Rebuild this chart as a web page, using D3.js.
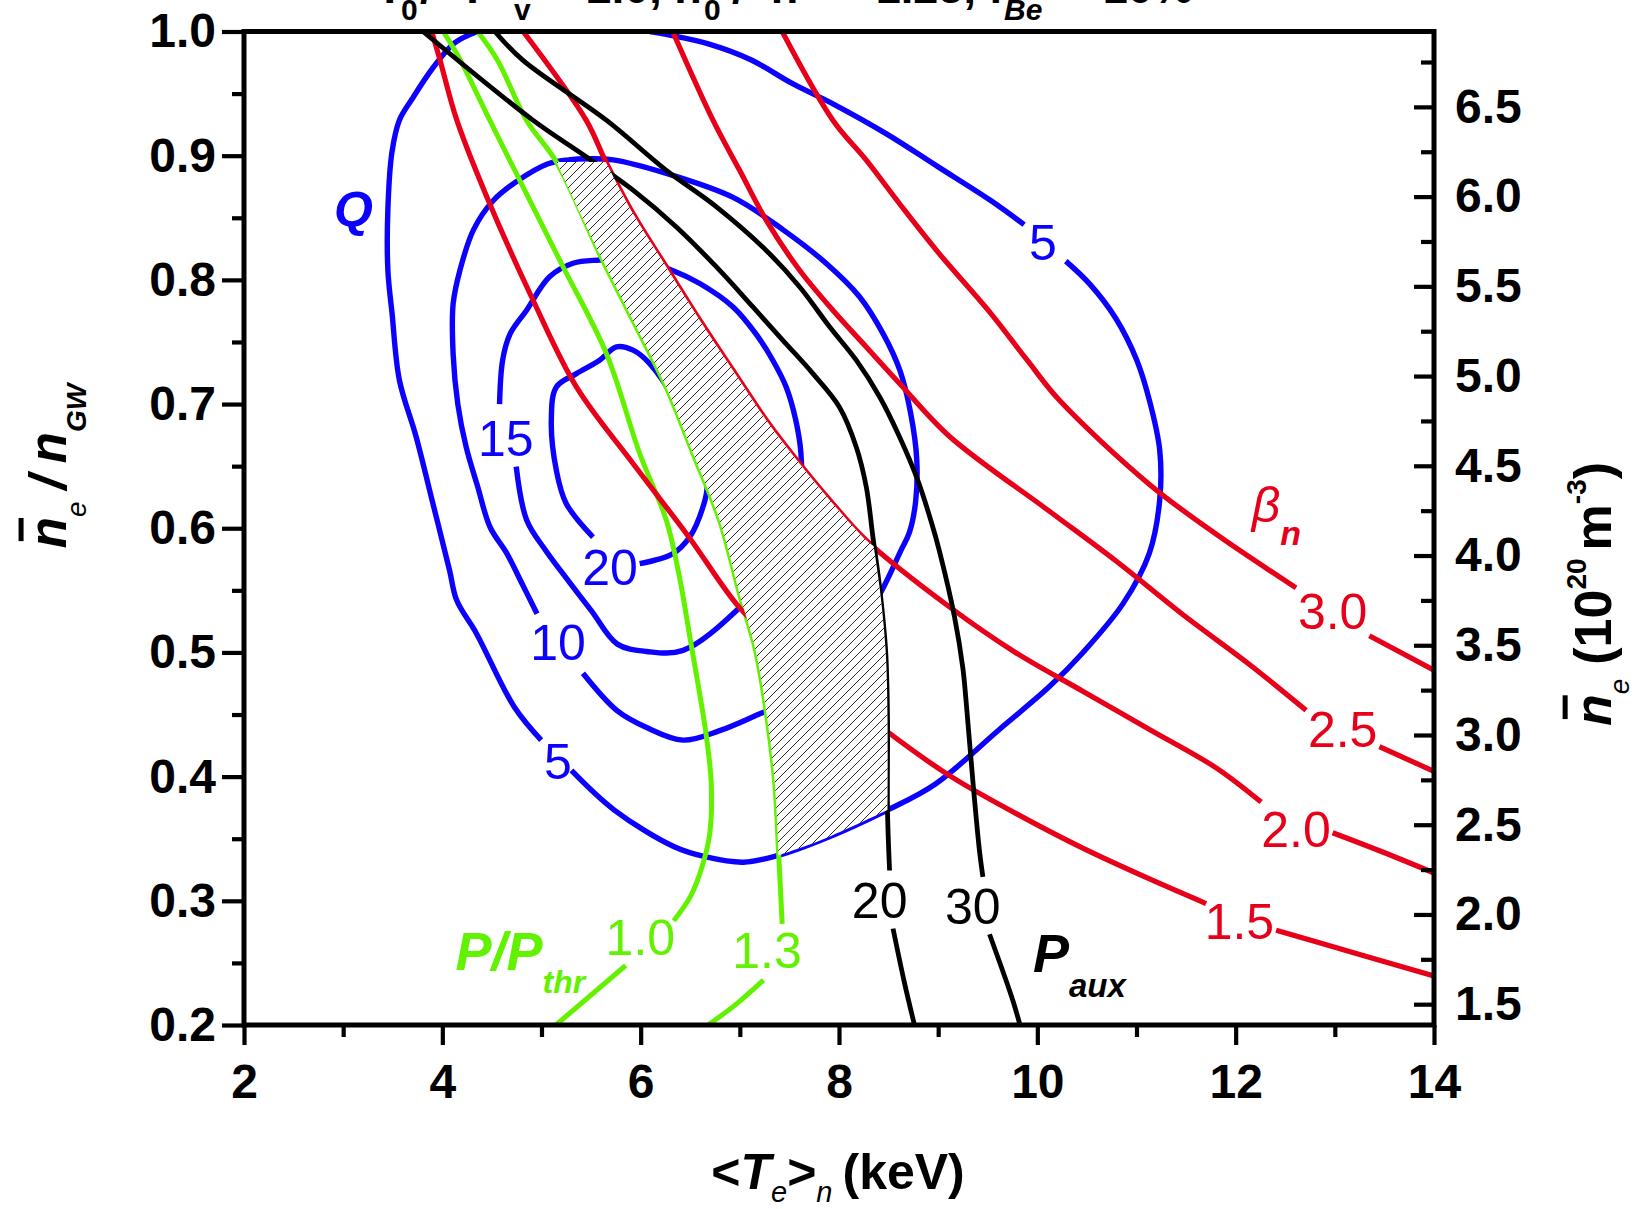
<!DOCTYPE html>
<html><head><meta charset="utf-8">
<script src="https://cdn.jsdelivr.net/npm/d3@7"></script>
<style>
html,body{margin:0;padding:0;background:#fff;}
svg{display:block;}
text{font-family:"Liberation Sans",Arial,Helvetica,sans-serif;}
</style></head><body>
<svg id="chart" width="1636" height="1209"></svg>
<script>
// ---------------- DATA (T in keV, n = n_e / n_GW) ----------------
const NGW = 6.92; // Greenwald density, 10^20 m^-3 (right axis = n * NGW)
const xTicksMajor = [2,4,6,8,10,12,14];
const xTicksMinor = [3,5,7,9,11,13];
const yTicksMajor = [0.2,0.3,0.4,0.5,0.6,0.7,0.8,0.9,1.0];
const yTicksMinor = [0.25,0.35,0.45,0.55,0.65,0.75,0.85,0.95];
const rTicksMajor = [1.5,2.0,2.5,3.0,3.5,4.0,4.5,5.0,5.5,6.0,6.5];
const rTicksMinor = [1.75,2.25,2.75,3.25,3.75,4.25,4.75,5.25,5.75,6.25,6.75];

// Q contours (blue)
const q5 = [
 [[4.356,1.0],[4.124,0.9908],[3.904,0.9706],[3.693,0.9454],[3.567,0.9286],[3.493,0.9034],[3.451,0.8571],[3.451,0.8076],[3.493,0.7731],[3.567,0.7193],[3.735,0.6739],[3.904,0.6202],[4.072,0.5664],[4.145,0.5420],[4.345,0.5151],[4.724,0.4563],[4.997,0.4294]],
 [[5.302,0.4050],[5.734,0.3731],[6.344,0.3433],[6.659,0.3353],[7.038,0.3311],[7.390,0.3366],[7.816,0.3487],[8.489,0.3731],[8.973,0.3941],[9.614,0.4378],[10.119,0.4723],[10.456,0.4996],[10.866,0.5395],[11.129,0.5798],[11.234,0.6227],[11.234,0.6630],[11.129,0.7034],[11.003,0.7353],[10.792,0.7689],[10.529,0.7966],[10.287,0.8151]],
 [[9.867,0.8445],[9.530,0.8639],[9.004,0.8908],[8.479,0.9176],[7.953,0.9412],[7.532,0.9580],[7.111,0.9773],[6.691,0.9899],[6.270,0.9975],[6.091,1.0]]
];
const q10 = [
 [[4.955,0.5311],[4.798,0.5563],[4.650,0.5798],[4.482,0.6008],[4.356,0.6336],[4.240,0.6655],[4.156,0.7000],[4.109,0.7403],[4.109,0.7807],[4.177,0.8076],[4.314,0.8403],[4.514,0.8639],[4.745,0.8790],[5.060,0.8933],[5.271,0.8966],[5.481,0.8975],[5.723,0.8966],[6.259,0.8857],[6.932,0.8664],[7.437,0.8403],[7.869,0.8134],[8.205,0.7866],[8.447,0.7563],[8.615,0.7269],[8.721,0.6933],[8.784,0.6555],[8.773,0.6218],[8.710,0.5966],[8.626,0.5824],[8.394,0.5445],[8.110,0.5126],[7.795,0.4832],[7.480,0.4605],[7.196,0.4504],[6.796,0.4370],[6.428,0.4294],[6.060,0.4395],[5.765,0.4529],[5.418,0.4832]]
];
const q15 = [
 [[4.745,0.6496],[4.850,0.6067],[5.039,0.5824],[5.187,0.5664],[5.502,0.5336],[5.765,0.5067],[6.060,0.5008],[6.428,0.5017],[6.964,0.5336],[7.322,0.5672],[7.532,0.6050],[7.616,0.6345],[7.616,0.6605],[7.563,0.6874],[7.469,0.7134],[7.332,0.7353],[7.164,0.7563],[6.932,0.7782],[6.596,0.7971],[6.322,0.8076],[5.954,0.8168],[5.586,0.8160],[5.318,0.8134],[5.081,0.8025],[4.850,0.7756],[4.682,0.7563],[4.608,0.7353],[4.577,0.7000]]
];
const q20 = [
 [[5.519,0.5929],[5.250,0.6198],[5.150,0.6466],[5.099,0.6870],[5.150,0.7138],[5.352,0.7245],[5.586,0.7353],[5.755,0.7460],[5.923,0.7434],[6.091,0.7326],[6.354,0.7017],[6.565,0.6639],[6.670,0.6345],[6.628,0.6171],[6.494,0.5929],[6.326,0.5796],[5.990,0.5715]]
];
const qLabels = [["5",5.166,0.4126],["10",5.166,0.5084],["15",4.640,0.6723],["20",5.692,0.5689],["5",10.056,0.8303]];

// P/P_thr contours (green)
const pthr10 = [
 [[4.009,1.0],[4.182,0.9769],[4.478,0.9286],[5.184,0.8158],[5.654,0.7407],[5.990,0.6602],[6.259,0.6064],[6.386,0.5630],[6.501,0.5101],[6.659,0.4345],[6.712,0.3941],[6.696,0.3538],[6.617,0.3269],[6.501,0.3034],[6.333,0.2840]],
 [[5.849,0.2479],[5.145,0.2]]
];
const pthr13 = [
 [[4.356,1.0],[4.556,0.9769],[4.848,0.9286],[5.150,0.8950],[5.586,0.8210],[5.923,0.7672],[6.259,0.7134],[6.528,0.6602],[6.796,0.6064],[7.006,0.5445],[7.159,0.5017],[7.274,0.4479],[7.353,0.3941],[7.390,0.3403],[7.427,0.2815]],
 [[7.238,0.2361],[6.964,0.2168],[6.680,0.2]]
];
const pthrLabels = [["1.0",5.997,0.2706],["1.3",7.274,0.2601]];

// P_aux contours (black)
const paux20 = [
 [[3.805,1.0],[4.913,0.9286],[5.450,0.8992],[5.923,0.8723],[6.360,0.8426],[6.764,0.8104],[7.132,0.7782],[7.434,0.7513],[7.737,0.7245],[8.005,0.6975],[8.174,0.6655],[8.275,0.6333],[8.342,0.5929],[8.409,0.5527],[8.470,0.5017],[8.489,0.4479],[8.489,0.3731],[8.510,0.3244]],
 [[8.545,0.2776],[8.662,0.2333],[8.761,0.2]]
];
const paux30 = [
 [[4.529,1.0],[4.811,0.9769],[5.654,0.9286],[6.259,0.8882],[6.764,0.8588],[7.269,0.8235],[7.606,0.7941],[7.905,0.7622],[8.174,0.7353],[8.409,0.7059],[8.611,0.6735],[8.794,0.6387],[8.931,0.6050],[9.010,0.5824],[9.165,0.5286],[9.249,0.4874],[9.281,0.4613],[9.352,0.3945],[9.416,0.3407],[9.451,0.3193]],
 [[9.518,0.2731],[9.753,0.2198],[9.825,0.2]]
];
const pauxLabels = [["20",8.410,0.3003],["30",9.349,0.2962]];

// beta_N contours (red)
const beta15 = [
 [[3.893,1.0],[3.977,0.9769],[4.146,0.9286],[4.451,0.8664],[4.913,0.7840],[5.355,0.7134],[5.923,0.6521],[6.491,0.5924],[6.996,0.5361],[7.427,0.5042],[7.953,0.4706],[8.489,0.4361],[9.115,0.4008],[9.787,0.3702],[10.458,0.3424],[11.131,0.3176],[11.702,0.2978]],
 [[12.408,0.2762],[13.146,0.2592],[14.0,0.2395]]
];
const beta20 = [
 [[4.815,1.0],[5.450,0.9286],[5.649,0.8950],[5.923,0.8534],[6.259,0.8104],[6.596,0.7675],[6.930,0.7272],[7.267,0.6870],[7.602,0.6521],[7.938,0.6198],[8.275,0.5903],[9.115,0.5366],[9.787,0.4996],[10.458,0.4688],[11.131,0.4380],[11.803,0.4071],[12.257,0.3795]],
 [[12.978,0.3548],[13.482,0.3393],[14.0,0.3224]]
];
const beta25 = [
 [[6.323,1.0],[6.729,0.9286],[6.998,0.8882],[7.267,0.8479],[7.603,0.8077],[7.938,0.7755],[8.275,0.7460],[8.611,0.7166],[9.115,0.6739],[10.122,0.6137],[10.794,0.5736],[11.466,0.5305],[12.139,0.4903],[12.710,0.4534]],
 [[13.449,0.4242],[14.0,0.4042]]
];
const beta30 = [
 [[7.427,1.0],[7.938,0.9286],[8.275,0.8964],[8.611,0.8613],[9.004,0.8218],[9.530,0.7731],[9.898,0.7353],[10.223,0.7030],[11.131,0.6353],[11.803,0.5952],[12.609,0.5520]],
 [[13.348,0.5134],[14.0,0.4857]]
];
const betaLabels = [["3.0",12.978,0.5335],["2.5",13.079,0.4380],["2.0",12.609,0.3579],["1.5",12.038,0.2839]];

// hatched operating window, edge by edge (clockwise)
const hatchTop   = [[5.150,0.8950],[5.649,0.8950]];
const hatchBeta  = [[5.649,0.8950],[5.923,0.8534],[6.259,0.8104],[6.596,0.7675],[6.930,0.7272],[7.267,0.6870],[7.602,0.6521],[7.938,0.6198],[8.275,0.5903],[8.350,0.5856]];
const hatchPaux  = [[8.350,0.5856],[8.409,0.5527],[8.470,0.5017],[8.489,0.4479],[8.489,0.3731]];
const hatchQ     = [[8.489,0.3731],[7.816,0.3487],[7.390,0.3366]];
const hatchPthr  = [[7.390,0.3366],[7.353,0.3941],[7.274,0.4479],[7.159,0.5017],[7.006,0.5445],[6.796,0.6064],[6.528,0.6602],[6.259,0.7134],[5.923,0.7672],[5.586,0.8210],[5.150,0.8950]];

// name-label anchor points (data coords)
const qName = [2.908,0.8426];
const pthrName = [4.133,0.2443];
const pauxName = [9.956,0.2427];
const betaName = [12.162,0.6050];

// ---------------- DRAWING ----------------
const BLUE="#0c00ff", RED="#e8001a", GREEN="#62f200", BLACK="#000";
const LW = 5.4;
const svg = d3.select("#chart");
const M = {left:244, right:1434, top:31.5, bottom:1025};
const x = d3.scaleLinear().domain([2,14]).range([M.left,M.right]);
const y = d3.scaleLinear().domain([0.2,1.0]).range([M.bottom,M.top]);
const yR = d3.scaleLinear().domain([0.2*NGW,1.0*NGW]).range([M.bottom,M.top]);

const defs = svg.append("defs");
defs.append("clipPath").attr("id","clip").append("rect")
  .attr("x",M.left).attr("y",M.top).attr("width",M.right-M.left).attr("height",M.bottom-M.top);
const pat = defs.append("pattern").attr("id","hatch").attr("patternUnits","userSpaceOnUse")
  .attr("width",9).attr("height",9);
pat.append("path").attr("d","M-1,1 L1,-1 M0,9 L9,0 M8,10 L10,8")
  .attr("stroke","#111").attr("stroke-width",0.9).attr("fill","none");

const line = d3.line().x(d=>x(d[0])).y(d=>y(d[1])).curve(d3.curveCatmullRom.alpha(0.5));
const gPlot = svg.append("g").attr("clip-path","url(#clip)");
function drawSegs(segs, color, w){
  segs.forEach(s => gPlot.append("path").attr("d", line(s)).attr("fill","none")
    .attr("stroke", color).attr("stroke-width", w).attr("stroke-linejoin","round").attr("stroke-linecap","butt"));
}
[q5,q10,q15,q20].forEach(c=>drawSegs(c,BLUE,LW));
[pthr10,pthr13].forEach(c=>drawSegs(c,GREEN,LW-0.4));
[beta15,beta20,beta25,beta30].forEach(c=>drawSegs(c,RED,LW-0.2));
[paux20,paux30].forEach(c=>drawSegs(c,BLACK,LW-0.6));

// hatched region on top (edges follow the smoothed contours)
const edgePath = [hatchTop,hatchBeta,hatchPaux,hatchQ,hatchPthr]
  .map((e,i) => { const p = line(e); return i===0 ? p : "L" + p.slice(1); }).join("") + "Z";
gPlot.append("path").attr("d", edgePath).attr("fill","#fff");
gPlot.append("path").attr("d", edgePath).attr("fill","url(#hatch)");

// contour value labels
function valLabels(arr, color){
  arr.forEach(([t,T,n]) => svg.append("text").attr("x",x(T)).attr("y",y(n)).attr("dy","0.36em")
    .attr("text-anchor","middle").attr("fill",color).style("font-size","50px").text(t));
}
valLabels(qLabels, BLUE);
valLabels(betaLabels, RED);
valLabels(pthrLabels, GREEN);
valLabels(pauxLabels, BLACK);

// rich text helper
function rich(parent, runs, anchor){
  const outer = parent.append("g");
  const g = outer.append("g");
  let cx = 0;
  runs.forEach(r => {
    if (r.gap){ cx += r.gap; return; }
    const t = g.append("text").attr("x",cx).attr("y",r.dy||0).text(r.t)
      .attr("fill", r.fill||"#000")
      .style("font-size", r.size+"px").style("font-weight", r.w||"normal").style("font-style", r.s||"normal");
    const w = t.node().getComputedTextLength();
    if (r.bar) g.append("rect").attr("x", cx + r.bar[0]).attr("y", -r.size*0.93)
      .attr("width", w - r.bar[0] - r.bar[1]).attr("height", 5).attr("fill", r.fill||"#000");
    cx += w;
  });
  if (anchor==="middle") g.attr("transform",`translate(${-cx/2},0)`);
  return outer;
}

// name labels
rich(svg.append("g").attr("transform",`translate(${x(qName[0])},${y(qName[1])})`),
  [{t:"Q",size:50,w:"bold",s:"italic",fill:BLUE}]);
rich(svg.append("g").attr("transform",`translate(${x(pthrName[0])},${y(pthrName[1])})`),
  [{t:"P/P",size:54,w:"bold",s:"italic",fill:GREEN},{t:"thr",size:32,w:"bold",s:"italic",dy:23,fill:GREEN}]);
rich(svg.append("g").attr("transform",`translate(${x(pauxName[0])},${y(pauxName[1])})`),
  [{t:"P",size:54,w:"bold",s:"italic"},{t:"aux",size:33,w:"bold",s:"italic",dy:25}]);
rich(svg.append("g").attr("transform",`translate(${x(betaName[0])},${y(betaName[1])})`),
  [{t:"β",size:50,s:"italic",fill:RED},{t:"n",size:34,w:"bold",s:"italic",dy:23,fill:RED}]);

// axes
function styleAxis(g){
  g.select(".domain").remove();
  g.selectAll("line").attr("stroke-width",4.2);
  g.selectAll("text").style("font-family",'"Liberation Sans",Arial,sans-serif')
    .style("font-size","48px").style("font-weight","bold").attr("fill","#000");
}
svg.append("g").attr("transform",`translate(0,${M.bottom})`)
  .call(d3.axisBottom(x).tickValues(xTicksMajor).tickSizeInner(20).tickSizeOuter(0).tickPadding(19).tickFormat(d3.format("d"))).call(styleAxis);
svg.append("g").attr("transform",`translate(0,${M.bottom})`)
  .call(d3.axisBottom(x).tickValues(xTicksMinor).tickSizeInner(12).tickSizeOuter(0).tickFormat("")).call(styleAxis);
svg.append("g").attr("transform",`translate(${M.left},0)`)
  .call(d3.axisLeft(y).tickValues(yTicksMajor).tickSizeInner(22).tickSizeOuter(0).tickPadding(6).tickFormat(d3.format(".1f"))).call(styleAxis);
svg.append("g").attr("transform",`translate(${M.left},0)`)
  .call(d3.axisLeft(y).tickValues(yTicksMinor).tickSizeInner(12).tickSizeOuter(0).tickFormat("")).call(styleAxis);
svg.append("g").attr("transform",`translate(${M.right},0)`)
  .call(d3.axisRight(yR).tickValues(rTicksMajor).tickSizeInner(-20).tickSizeOuter(0).tickPadding(21).tickFormat(d3.format(".1f"))).call(styleAxis);
svg.append("g").attr("transform",`translate(${M.right},0)`)
  .call(d3.axisRight(yR).tickValues(rTicksMinor).tickSizeInner(-13).tickSizeOuter(0).tickFormat("")).call(styleAxis);

// frame
svg.append("rect").attr("x",M.left).attr("y",M.top).attr("width",M.right-M.left).attr("height",M.bottom-M.top)
  .attr("fill","none").attr("stroke","#000").attr("stroke-width",5);

// axis titles
rich(svg.append("g").attr("transform","translate(66,466) rotate(-90)"), [
  {t:"n",size:51,w:"bold",s:"italic",bar:[7,1]},
  {t:"e",size:28,s:"italic",dy:20},
  {gap:12},{t:"/",size:51,w:"bold",s:"italic"},{gap:12},
  {t:"n",size:51,w:"bold",s:"italic"},
  {t:"GW",size:28,w:"bold",s:"italic",dy:20}
], "middle");
rich(svg.append("g").attr("transform","translate(1611,594) rotate(-90)"), [
  {t:"n",size:52,w:"bold",s:"italic",bar:[7,1]},
  {t:"e",size:28,s:"italic",dy:18},
  {gap:14},{t:"(10",size:52,w:"bold"},
  {t:"20",size:28,w:"bold",dy:-25},
  {gap:8},{t:"m",size:52,w:"bold"},
  {t:"-3",size:28,w:"bold",dy:-25},
  {t:")",size:52,w:"bold"}
], "middle");
rich(svg.append("g").attr("transform","translate(838,1189)"), [
  {t:"<",size:50,w:"bold"},
  {t:"T",size:50,w:"bold",s:"italic"},
  {t:"e",size:29,s:"italic",dy:13},
  {t:">",size:50,w:"bold"},
  {t:"n",size:29,s:"italic",dy:13},
  {gap:10},{t:"(keV)",size:50,w:"bold"}
], "middle");

// title, clipped by the top edge as in the original figure
const titleMain = [["T",376],["/<T>",420],["= 2.0, n",548],["/<n> = 1.25, f",732],["= 10%",1064]];
const titleSubs = [["0",401,"normal"],["v",514,"normal"],["0",704,"normal"],["Be",1004,"italic"]];
titleMain.forEach(([t,px]) => svg.append("text").attr("x",px).attr("y",3).style("font-size","45px")
  .style("font-weight","bold").style("white-space","pre").text(t));
titleSubs.forEach(([t,px,st]) => svg.append("text").attr("x",px).attr("y",20).style("font-size","30px")
  .style("font-weight","bold").style("font-style",st).text(t));
</script></body></html>
